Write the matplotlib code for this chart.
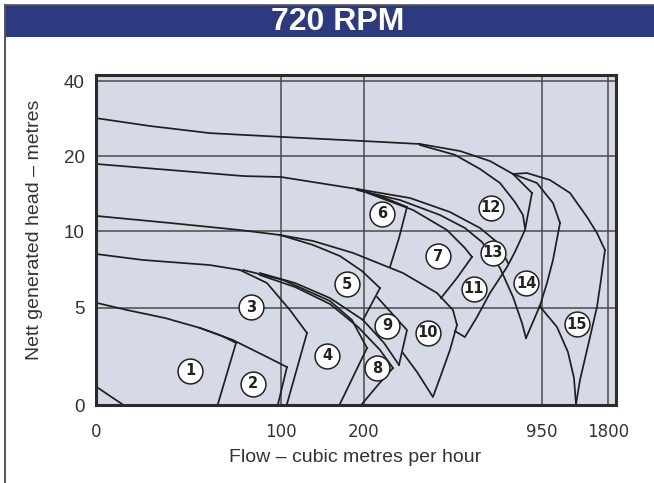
import numpy as np
import matplotlib
matplotlib.use("Agg")
import matplotlib.pyplot as plt
from matplotlib.patches import Rectangle
from matplotlib.lines import Line2D

# ---------------- data (flow m3/h, head m) ----------------
x_ticks = [0, 100, 200, 950, 1800]
y_ticks = [0, 5, 10, 20, 40]

h1_main = ([0, 29.2, 61.6, 100, 198.8, 436.4], [30.1, 28.0, 26.1, 25.1, 24.0, 23.2])
p12_outer = ([436.4, 605.2, 731.8, 829, 909], [23.2, 21.33, 19.33, 17.6, 15.07])
p12_inner = ([436.4, 584, 689.6, 774, 837, 871, 879.5], [22.93, 20.3, 18.27, 16.4, 13.87, 12.13, 10.4])
p12_right = ([909, 879.5, 837, 803.5, 732, 677, 626, 584], [15.07, 10.13, 8.63, 7.65, 5.96, 4.52, 3.49, 3.80])

h2_main = ([0.5, 40, 79.5, 100, 191.6], [18.93, 18.13, 17.33, 17.2, 15.6])
p6_top = ([191.6, 288.6, 381.5], [15.6, 14.4, 13.2])
p6_right = ([381.5, 347.7, 309.7], [13.2, 9.54, 7.65])
p7_top = ([191.6, 406.8, 550.3, 626, 655.8], [15.6, 12.8, 10.13, 8.89, 8.31])
p7_right = ([655.8, 592.5, 525], [8.31, 6.94, 5.63])
p13_curve = ([191.6, 394, 563, 689.6, 761.4, 808], [15.6, 14.4, 12.53, 10.4, 9.28, 7.91])
p14_left = ([191.6, 352, 520.8, 626, 698, 774, 829, 867, 883.7],
            [15.47, 14.13, 12.13, 10.4, 9.28, 7.59, 5.70, 4.21, 3.44])
p14_top = ([829, 930, 1095, 1185], [17.6, 16.4, 13.73, 11.07])
p14_right = ([1185, 1095, 1018, 943, 884], [11.07, 8.11, 6.61, 5.15, 3.44])
p15_top = ([829, 888, 1056, 1313, 1531, 1659, 1761], [17.6, 17.73, 16.8, 15.07, 11.87, 9.87, 8.76])
p15_right = ([1761, 1710, 1659, 1531, 1441, 1390], [8.76, 6.81, 5.05, 2.83, 1.28, 0.05])
p15_left = ([941, 1146, 1287, 1364, 1390], [5.11, 4.01, 2.72, 1.39, 0.05])

h3_main = ([0.5, 40, 77.8, 99.5], [12.0, 11.07, 10.13, 9.74])
p10_top = ([99.5, 138.6, 186.8, 364.6, 508, 575.6, 592.5], [9.74, 9.35, 8.57, 7.26, 5.96, 4.88, 4.11])
p10_right = ([592.5, 563, 525, 491, 423.7, 364.6], [4.11, 2.83, 1.54, 0.41, 1.70, 2.67])
p5_top = ([99.5, 138.6, 171, 197.6, 267.5], [9.74, 9.09, 8.37, 7.39, 6.28])
p5_right = ([267.5, 198.8], [6.28, 4.37])

h4_main = ([0, 25.4, 61.6, 77.8], [8.50, 8.11, 7.78, 7.46])
p3_top = ([77.8, 92.4, 110.8, 131.3], [7.46, 6.61, 4.88, 3.70])
p3_right = ([131.3, 107.2], [3.70, 0.05])
p4_top = ([79.5, 102.4, 159, 185.5, 212.7], [7.46, 6.81, 5.44, 4.37, 2.93])
p4_right = ([212.7, 171], [2.93, 0.05])
p8_top = ([88.6, 116.9, 159, 192.8, 267.5, 322.4], [7.13, 6.35, 5.24, 4.01, 2.83, 1.90])
p8_right = ([322.4, 259, 197.6], [1.90, 1.03, 0.05])
p9_curve = ([88.6, 116.9, 159, 198.8, 284.4, 347.7], [7.26, 6.61, 5.63, 4.37, 3.19, 2.06])
p9_box = ([255, 381.5, 347.7], [5.70, 3.85, 2.06])

h5_main = ([0.5, 16.8, 37.3, 56.2], [5.31, 4.88, 4.47, 3.96])
p1_top = ([56.2, 68.1, 75.7], [3.96, 3.55, 3.19])
p1_right = ([75.7, 65.9], [3.19, 0.05])
p2_top = ([56.2, 74, 90.3, 107.2], [3.96, 3.34, 2.57, 1.95])
p2_right = ([107.2, 98.4], [1.95, 0.05])
h6 = ([0.5, 7.6, 14.1], [0.92, 0.46, 0.05])

curves = [h1_main, p12_outer, p12_inner, p12_right, h2_main, p6_top, p6_right,
          p7_top, p7_right, p13_curve, p14_left, p14_top, p14_right, p15_top,
          p15_right, p15_left, h3_main, p10_top, p10_right, p5_top, p5_right,
          h4_main, p3_top, p3_right, p4_top, p4_right, p8_top, p8_right,
          p9_curve, p9_box, h5_main, p1_top, p1_right, p2_top, p2_right, h6]

pump_labels = ["1", "2", "3", "4", "5", "6", "7", "8", "9", "10", "11", "12", "13", "14", "15"]
pump_flow = [50.8, 84.9, 83.8, 155.4, 179.5, 276, 512.3, 255, 297, 470, 664, 736, 744.5, 884, 1402.5]
pump_head = [1.75, 1.08, 5.04, 2.52, 6.54, 12.27, 8.37, 1.90, 4.06, 3.70, 6.22, 13.07, 8.57, 6.61, 4.16]

# ---------------- scales (chart's non-linear axes) ----------------
x_nodes = [0, 100, 200, 950, 1800, 3000]
x_units = [0, 185, 268, 445.7, 512, 605.6]
y_nodes = [0, 5, 10, 20, 40, 80]
y_units = [0, 97.3, 174, 249, 324, 474]

def xf(v):
    return np.interp(v, x_nodes, x_units)
def xi(u):
    return np.interp(u, x_units, x_nodes)
def yf(v):
    return np.interp(v, y_nodes, y_units)
def yi(u):
    return np.interp(u, y_units, y_nodes)

W, H = 654, 483
fig = plt.figure(figsize=(W / 100, H / 100), dpi=100)
fig.patch.set_facecolor("white")

# title bar and frame
fig.patches.append(Rectangle((5 / W, 1 - 37 / H), 1 - 5 / W, 32 / H, transform=fig.transFigure,
                             facecolor="#2e3a80", edgecolor="none", zorder=0))
fig.lines.append(Line2D([4.5 / W, 4.5 / W], [0, 1 - 5 / H], transform=fig.transFigure,
                        color="#555555", lw=1.4))
fig.lines.append(Line2D([4.5 / W, 1], [1 - 5 / H, 1 - 5 / H], transform=fig.transFigure,
                        color="#555555", lw=1.2))
fig.text(338 / W, 1 - 22 / H, "720 RPM", color="white", fontsize=23, fontweight="bold",
         ha="center", va="center", family=["Liberation Sans", "DejaVu Sans"])

ax = fig.add_axes([96 / W, 78 / H, (615.7 - 96) / W, (405 - 75) / H])
ax.set_xscale("function", functions=(xf, xi))
ax.set_yscale("function", functions=(yf, yi))
ax.set_xlim(0, 1899)
ax.set_ylim(0, 41.6)
ax.set_facecolor("#d6d9e6")

ax.set_xticks(x_ticks)
ax.set_xticklabels([str(v) for v in x_ticks], family=["Liberation Sans Narrow", "DejaVu Sans"],
                   fontsize=12, color="#333333")
ax.set_yticks(y_ticks)
ax.set_yticklabels([str(v) for v in y_ticks], family=["Liberation Sans", "DejaVu Sans"],
                   fontsize=13.5, color="#333333")
ax.tick_params(axis="x", length=0, pad=13)
ax.tick_params(axis="y", length=0, pad=8)
ax.grid(True, color="#4a4a4a", lw=1.1)
ax.set_axisbelow(True)
for s in ax.spines.values():
    s.set_color("#2b2b2b")
    s.set_linewidth(2.2)
    s.set_zorder(5)

for q, h in curves:
    ax.plot(q, h, color="#1f1f1f", lw=1.25, solid_joinstyle="round", zorder=3)

ax.scatter(pump_flow, pump_head, s=320, facecolor="white", edgecolor="#222222",
           linewidth=1.1, zorder=6, clip_on=False)
for lab, q, h in zip(pump_labels, pump_flow, pump_head):
    ax.text(q, h, lab, ha="center", va="center", fontsize=10.5, fontweight="bold",
            color="#222222", zorder=7, family=["Liberation Sans Narrow", "DejaVu Sans"])

fig.text(35 / W, 1 - 230 / H, "Nett generated head \u2013 metres", rotation=90, ha="center",
         va="center", fontsize=14, color="#333333", family=["Liberation Sans", "DejaVu Sans"])
fig.text(355 / W, 1 - 457 / H, "Flow \u2013 cubic metres per hour", ha="center", va="center",
         fontsize=14, color="#333333", family=["Liberation Sans", "DejaVu Sans"])

fig.savefig("out.png", dpi=100)
